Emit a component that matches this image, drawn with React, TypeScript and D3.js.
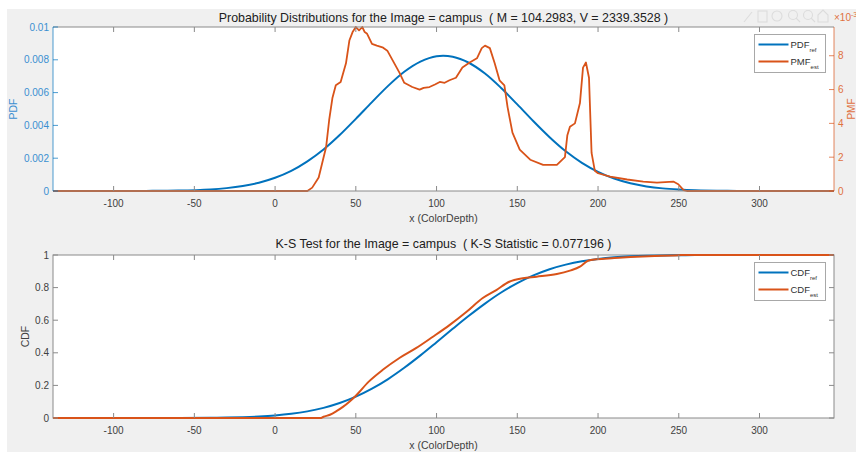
import React, { useEffect, useRef } from 'react'
import * as d3 from 'd3'

// x grid for the reference curves
const refX = [-140, -100, -80, -60, -40, -30, -20, -10, 0, 10, 20, 30, 40, 50, 60, 70, 80, 90, 100, 110, 120, 130, 140, 150, 160, 170, 180, 190, 200, 210, 220, 230, 240, 250, 260, 280, 300, 350]
const pdfRef = [0, 0, 0.000006, 0.000026, 0.000096, 0.000175, 0.000304, 0.000506, 0.000808, 0.00123, 0.00181, 0.00253, 0.00341, 0.0044, 0.00542, 0.00641, 0.00727, 0.00789, 0.00822, 0.00819, 0.00782, 0.00716, 0.00628, 0.00528, 0.00425, 0.00328, 0.00242, 0.00172, 0.00117, 0.00076, 0.00047, 0.00028, 0.00016, 0.00009, 0.000046, 0.000011, 0.000002, 0]
const cdfRef = [0, 0, 0.00007, 0.0003, 0.0014, 0.0028, 0.0051, 0.0091, 0.0155, 0.0256, 0.0407, 0.0623, 0.0919, 0.131, 0.18, 0.239, 0.308, 0.384, 0.465, 0.547, 0.627, 0.702, 0.77, 0.828, 0.875, 0.913, 0.941, 0.962, 0.976, 0.9856, 0.9916, 0.9953, 0.9975, 0.9987, 0.9994, 0.9998, 1, 1]

// estimated PMF (values in units of 1e-3)
const pmfX = [-140, 20, 23, 27, 31.6, 33.5, 35.5, 37.6, 40.6, 43.9, 46, 48, 50, 52, 54, 55.5, 57, 60, 63, 66.5, 69.5, 73, 77, 80, 85, 89.5, 92, 95.6, 99, 102, 105, 108, 112, 116, 120.5, 125, 128, 130, 133, 136, 139, 142, 144, 147, 151.5, 158, 166, 174.5, 179.5, 181, 182.6, 185.7, 188.8, 190.7, 192.5, 194.4, 196, 198, 200, 207.5, 218, 228, 236.5, 246.6, 249.7, 253, 255, 346]
const pmfEst = [0, 0, 0.2, 0.8, 2.6, 4.2, 5.5, 6.26, 6.45, 7.55, 8.9, 9.4, 9.7, 9.5, 9.7, 9.4, 9.3, 8.7, 8.6, 8.5, 8.3, 7.7, 7.0, 6.4, 6.15, 6.0, 6.1, 6.15, 6.3, 6.45, 6.4, 6.55, 6.7, 7.3, 7.6, 7.85, 8.45, 8.6, 8.45, 7.55, 6.55, 6.25, 4.95, 3.45, 2.45, 1.85, 1.55, 1.55, 2.0, 3.3, 3.8, 4.0, 5.2, 7.3, 7.6, 6.7, 2.25, 1.2, 1.05, 0.85, 0.68, 0.56, 0.5, 0.56, 0.4, 0.05, 0, 0]

// estimated CDF
const cdfX = [-140, 28, 30, 34, 38, 42, 46, 50, 58, 66.5, 77, 87.5, 97.5, 108, 118.6, 128.6, 137, 145, 153.4, 162, 174.5, 182.6, 188.8, 193.8, 199, 210, 220, 235, 250, 255, 346]
const cdfEst = [0, 0, 0.008, 0.02, 0.042, 0.068, 0.1, 0.137, 0.223, 0.294, 0.368, 0.43, 0.497, 0.57, 0.652, 0.736, 0.785, 0.836, 0.858, 0.867, 0.883, 0.904, 0.928, 0.965, 0.974, 0.981, 0.987, 0.994, 0.999, 1, 1]

const xTicks = [-100, -50, 0, 50, 100, 150, 200, 250, 300]
const pdfTicks = [0, 0.002, 0.004, 0.006, 0.008, 0.01]
const pmfTicks = [0, 2, 4, 6, 8]
const cdfTicks = [0, 0.2, 0.4, 0.6, 0.8, 1]

const M = 104.2983
const V = 2339.3528

const BLUE = '#0072BD'
const ORANGE = '#D95319'
const AXIS = '#8a8a8a'
const TXT = '#404040'
const FONT = '"Liberation Sans", Arial, sans-serif'

const width = 856
const height = 452

export default function App() {
    const svgRef = useRef<SVGSVGElement>(null)

    useEffect(() => {
        const svg = d3.select(svgRef.current)
        svg.selectAll('*').remove()

        // plot box
        const marginLeft = 53
        const marginRight = 834
        const top1 = 27, bottom1 = 191
        const top2 = 255, bottom2 = 418
        const tickLen = 5

        svg.append('rect').attr('width', width).attr('height', height).attr('fill', '#ffffff')
        svg.append('rect').attr('x', 7).attr('y', 9).attr('width', width - 7).attr('height', height - 9).attr('fill', '#f0f0f0')

        // faint figure toolbar
        const tb = svg.append('g').attr('stroke', '#dcdcdc').attr('fill', 'none').attr('stroke-width', 1.1)
        tb.append('line').attr('x1', 744).attr('y1', 22).attr('x2', 752).attr('y2', 12)
        tb.append('rect').attr('x', 758).attr('y', 11).attr('width', 9).attr('height', 11)
        tb.append('circle').attr('cx', 777).attr('cy', 16).attr('r', 5)
        tb.append('circle').attr('cx', 793).attr('cy', 15).attr('r', 4.5)
        tb.append('line').attr('x1', 796).attr('y1', 18).attr('x2', 800).attr('y2', 22)
        tb.append('circle').attr('cx', 808).attr('cy', 15).attr('r', 4.5)
        tb.append('line').attr('x1', 811).attr('y1', 18).attr('x2', 815).attr('y2', 22)
        tb.append('path').attr('d', 'M818,22 L818,15 L823,10 L828,15 L828,22 Z')

        const xScale1 = d3.scaleLinear().domain([M - 5 * Math.sqrt(V), M + 5 * Math.sqrt(V)]).range([marginLeft, marginRight])

        const drawXAxis = (top: number, bottom: number) => {
            const g = svg.append('g')
            g.selectAll('line.tb').data(xTicks).join('line')
                .attr('x1', d => xScale1(d)).attr('x2', d => xScale1(d))
                .attr('y1', bottom).attr('y2', bottom - tickLen)
                .attr('stroke', AXIS)
            g.selectAll('line.tt').data(xTicks).join('line')
                .attr('x1', d => xScale1(d)).attr('x2', d => xScale1(d))
                .attr('y1', top).attr('y2', top + tickLen)
                .attr('stroke', AXIS)
            g.selectAll('text').data(xTicks).join('text')
                .attr('x', d => xScale1(d)).attr('y', bottom + 16)
                .attr('text-anchor', 'middle')
                .attr('font-family', FONT).attr('font-size', 10).attr('fill', TXT)
                .text(d => String(d))
            svg.append('text')
                .attr('x', (marginLeft + marginRight) / 2).attr('y', bottom + 31)
                .attr('text-anchor', 'middle')
                .attr('font-family', FONT).attr('font-size', 10.5).attr('fill', TXT)
                .text('x (ColorDepth)')
        }

        // ---------- top plot ----------
        const yPdf = d3.scaleLinear().domain([0, 0.01]).range([bottom1, top1])
        const yPmf = d3.scaleLinear().domain([0, 9.7]).range([bottom1, top1])

        svg.append('rect').attr('x', marginLeft).attr('y', top1)
            .attr('width', marginRight - marginLeft).attr('height', bottom1 - top1)
            .attr('fill', '#ffffff')

        const clip = svg.append('clipPath').attr('id', 'plot-top')
        clip.append('rect').attr('x', marginLeft).attr('y', top1 - 1)
            .attr('width', marginRight - marginLeft).attr('height', bottom1 - top1 + 2)
        const clip2 = svg.append('clipPath').attr('id', 'plot-bottom')
        clip2.append('rect').attr('x', marginLeft).attr('y', top2 - 1)
            .attr('width', marginRight - marginLeft).attr('height', bottom2 - top2 + 2)

        const pdfLine = d3.line<number>()
            .x((_, i) => xScale1(refX[i]))
            .y(d => yPdf(d))
            .curve(d3.curveCatmullRom)
        const pmfLine = d3.line<number>()
            .x((_, i) => xScale1(pmfX[i]))
            .y(d => yPmf(d))

        svg.append('path').attr('clip-path', 'url(#plot-top)')
            .attr('d', pdfLine(pdfRef)).attr('fill', 'none')
            .attr('stroke', BLUE).attr('stroke-width', 2)
        svg.append('path').attr('clip-path', 'url(#plot-top)')
            .attr('d', pmfLine(pmfEst)).attr('fill', 'none')
            .attr('stroke', ORANGE).attr('stroke-width', 1.8).attr('stroke-linejoin', 'round')

        // box lines
        svg.append('line').attr('x1', marginLeft).attr('x2', marginRight).attr('y1', top1).attr('y2', top1).attr('stroke', AXIS)
        svg.append('line').attr('x1', marginLeft).attr('x2', marginRight).attr('y1', bottom1).attr('y2', bottom1).attr('stroke', AXIS)
        svg.append('line').attr('x1', marginLeft).attr('x2', marginLeft).attr('y1', top1).attr('y2', bottom1).attr('stroke', BLUE).attr('stroke-opacity', 0.7)
        svg.append('line').attr('x1', marginRight).attr('x2', marginRight).attr('y1', top1).attr('y2', bottom1).attr('stroke', ORANGE).attr('stroke-opacity', 0.7)
        drawXAxis(top1, bottom1)

        // left PDF axis
        const gl = svg.append('g')
        gl.selectAll('line').data(pdfTicks).join('line')
            .attr('x1', marginLeft).attr('x2', marginLeft + tickLen)
            .attr('y1', d => yPdf(d)).attr('y2', d => yPdf(d))
            .attr('stroke', BLUE).attr('stroke-opacity', 0.7)
        gl.selectAll('text').data(pdfTicks).join('text')
            .attr('x', marginLeft - 4).attr('y', d => yPdf(d) + 3.5)
            .attr('text-anchor', 'end')
            .attr('font-family', FONT).attr('font-size', 10).attr('fill', '#3a8fd0')
            .text(d => d3.format('~g')(d))
        svg.append('text')
            .attr('transform', `translate(17,${(top1 + bottom1) / 2}) rotate(-90)`)
            .attr('text-anchor', 'middle')
            .attr('font-family', FONT).attr('font-size', 10.5).attr('fill', '#3a8fd0')
            .text('PDF')

        // right PMF axis
        const gr = svg.append('g')
        gr.selectAll('line').data(pmfTicks).join('line')
            .attr('x1', marginRight).attr('x2', marginRight - tickLen)
            .attr('y1', d => yPmf(d)).attr('y2', d => yPmf(d))
            .attr('stroke', ORANGE).attr('stroke-opacity', 0.7)
        gr.selectAll('text').data(pmfTicks).join('text')
            .attr('x', marginRight + 4).attr('y', d => yPmf(d) + 3.5)
            .attr('font-family', FONT).attr('font-size', 10).attr('fill', '#e07040')
            .text(d => String(d))
        svg.append('text')
            .attr('transform', `translate(855,${(top1 + bottom1) / 2}) rotate(-90)`)
            .attr('text-anchor', 'middle')
            .attr('font-family', FONT).attr('font-size', 10).attr('fill', '#e07040')
            .text('PMF')
        const exp = svg.append('text').attr('x', 834).attr('y', 21)
            .attr('font-family', FONT).attr('font-size', 10).attr('fill', '#e07040')
        exp.append('tspan').text('×10')
        exp.append('tspan').attr('dy', -4).attr('font-size', 7).text('-3')

        svg.append('text')
            .attr('x', (marginLeft + marginRight) / 2).attr('y', 22)
            .attr('text-anchor', 'middle')
            .style('white-space', 'pre')
            .attr('font-family', FONT).attr('font-size', 12.4).attr('fill', '#202020')
            .text(`Probability Distributions for the Image = campus  ( M = ${M}, V = ${V} )`)

        // ---------- bottom plot ----------
        const yCdf = d3.scaleLinear().domain([0, 1]).range([bottom2, top2])

        svg.append('rect').attr('x', marginLeft).attr('y', top2)
            .attr('width', marginRight - marginLeft).attr('height', bottom2 - top2)
            .attr('fill', '#ffffff').attr('stroke', AXIS)

        const cdfRefLine = d3.line<number>()
            .x((_, i) => xScale1(refX[i]))
            .y(d => yCdf(d))
            .curve(d3.curveMonotoneX)
        const cdfEstLine = d3.line<number>()
            .x((_, i) => xScale1(cdfX[i]))
            .y(d => yCdf(d))
            .curve(d3.curveMonotoneX)

        svg.append('path').attr('clip-path', 'url(#plot-bottom)')
            .attr('d', cdfRefLine(cdfRef)).attr('fill', 'none')
            .attr('stroke', BLUE).attr('stroke-width', 2)
        svg.append('path').attr('clip-path', 'url(#plot-bottom)')
            .attr('d', cdfEstLine(cdfEst)).attr('fill', 'none')
            .attr('stroke', ORANGE).attr('stroke-width', 2)

        drawXAxis(top2, bottom2)

        const gc = svg.append('g')
        gc.selectAll('line.l').data(cdfTicks).join('line')
            .attr('x1', marginLeft).attr('x2', marginLeft + tickLen)
            .attr('y1', d => yCdf(d)).attr('y2', d => yCdf(d))
            .attr('stroke', AXIS)
        gc.selectAll('line.r').data(cdfTicks).join('line')
            .attr('x1', marginRight).attr('x2', marginRight - tickLen)
            .attr('y1', d => yCdf(d)).attr('y2', d => yCdf(d))
            .attr('stroke', AXIS)
        gc.selectAll('text').data(cdfTicks).join('text')
            .attr('x', marginLeft - 4).attr('y', d => yCdf(d) + 3.5)
            .attr('text-anchor', 'end')
            .attr('font-family', FONT).attr('font-size', 10).attr('fill', TXT)
            .text(d => d3.format('~g')(d))
        svg.append('text')
            .attr('transform', `translate(29,${(top2 + bottom2) / 2}) rotate(-90)`)
            .attr('text-anchor', 'middle')
            .attr('font-family', FONT).attr('font-size', 10.5).attr('fill', TXT)
            .text('CDF')

        svg.append('text')
            .attr('x', (marginLeft + marginRight) / 2).attr('y', 248)
            .attr('text-anchor', 'middle')
            .style('white-space', 'pre')
            .attr('font-family', FONT).attr('font-size', 12.4).attr('fill', '#202020')
            .text('K-S Test for the Image = campus  ( K-S Statistic = 0.077196 )')

        // ---------- legends ----------
        const legend = (x: number, y: number, items: { name: string, sub: string, color: string }[]) => {
            const g = svg.append('g').attr('transform', `translate(${x},${y})`)
            g.append('rect').attr('width', 71).attr('height', 38)
                .attr('fill', '#ffffff').attr('stroke', '#a8a8a8')
            items.forEach((it, i) => {
                const cy = 10 + i * 17
                g.append('line').attr('x1', 4).attr('x2', 34).attr('y1', cy).attr('y2', cy)
                    .attr('stroke', it.color).attr('stroke-width', 2)
                const t = g.append('text').attr('x', 36).attr('y', cy + 3)
                    .attr('font-family', FONT).attr('font-size', 9.5).attr('fill', '#303030')
                t.append('tspan').text(it.name)
                t.append('tspan').attr('dy', 4).attr('font-size', 6).text(it.sub)
            })
        }
        legend(754.5, 34.5, [
            { name: 'PDF', sub: 'ref', color: BLUE },
            { name: 'PMF', sub: 'est', color: ORANGE },
        ])
        legend(754.5, 262.5, [
            { name: 'CDF', sub: 'ref', color: BLUE },
            { name: 'CDF', sub: 'est', color: ORANGE },
        ])
    }, [])

    return (
        <svg ref={svgRef} width={width} height={height}
            style={{ position: 'absolute', left: 0, top: 0, display: 'block' }} />
    )
}
